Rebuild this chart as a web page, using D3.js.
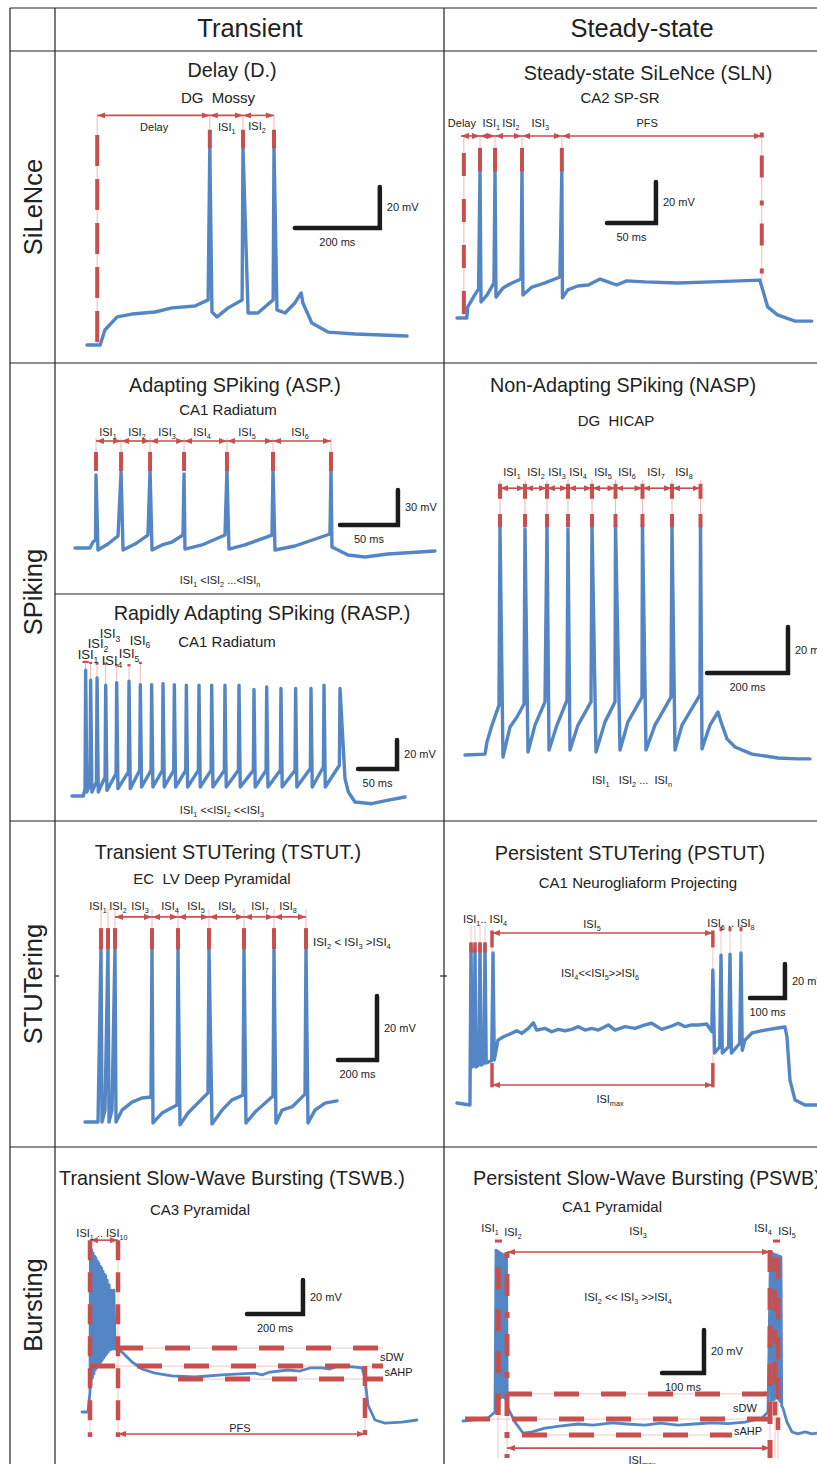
<!DOCTYPE html>
<html>
<head>
<meta charset="utf-8">
<script src="https://cdn.jsdelivr.net/npm/d3@7"></script>
<style>
  html, body { margin: 0; padding: 0; background: #fff; }
  svg { display: block; font-family: "Liberation Sans", Arial, Helvetica, sans-serif; }
</style>
</head>
<body>
<svg id="fig" width="817" height="1464"></svg>
<script>
// Firing-pattern table: 4 families x (transient | steady-state), one sketched trace per cell.
// Traces are stored in ms / mV; every panel has its own scales calibrated on its scale bar.

// ── Table text ──────────────────────────────────────────────────────────────
const COLUMNS = ["Transient", "Steady-state"];
const ROWS    = ["SiLeNce", "SPiking", "STUTering", "Bursting"];

// ── Delay (D.) ──────────────────────────────────────────────────────────────
const DELAY_TRACE = [[0,-70],[31,-70],[42,-62.7],[71,-56.3],[106,-54.9],[160,-53.9],[200,-51.9],[254,-51],
  [285,-48],[289,26.6],[294,-53.9],[306,-56.3],[332,-51.9],[365,-48],[367,26.6],[379,-54.4],[402,-54.4],
  [438,-48],[440,26.1],[447,-52.9],[466,-54.4],[489,-49.5],[504,-44.6],[508,-49.5],[529,-59.3],[567,-63.7],
  [631,-64.6],[753,-65.6]];
const DELAY_SPIKES = [289, 367, 440];
const DELAY_ONSET  = 24;
const DELAY_LABELS = [["Delay", 158, 36.4], ["ISI_{1}", 329, 36.4], ["ISI_{2}", 400, 37]];
const DELAY_BAR    = [489, -12.9, 200, 20];

// ── Steady-state SiLeNce (SLN) ──────────────────────────────────────────────
const SLN_TRACE = [[0,-70],[10,-70],[11,-64.6],[18,-58.8],[22,-55.8],[23.5,2.2],[24.5,-62.2],[30.6,-58.8],
  [37.7,-52.9],[38.8,2.2],[39.8,-59.8],[46.9,-55.4],[56.1,-52.9],[65.3,-51],[66.3,2.2],[67.3,-58.8],[76.5,-54.9],
  [89.8,-52.9],[105,-50],[107,2.2],[107.6,-60.2],[113,-56.3],[123,-54.4],[134,-53.9],[146,-51],[154,-52.4],
  [163,-53.9],[173,-51.9],[192,-52.4],[225,-52.9],[260,-52.4],[309,-51.5],[312,-56.3],[317,-64.6],[327,-68.5],
  [345,-71.5],[362,-71.5]];
const SLN_SPIKES = [23.5, 38.8, 66.3, 107];
const SLN_ONSET  = 7;
const SLN_END    = 311;
const SLN_LABELS = [["Delay", 5, 25], ["ISI_{1}", 35, 25], ["ISI_{2}", 55, 25], ["ISI_{3}", 85, 25], ["PFS", 194, 25]];
const SLN_BAR    = [153, -23.6, 50, 20];

// ── Adapting SPiking (ASP.) ─────────────────────────────────────────────────
const ASP_TRACE = [[0,-70],[12.9,-70],[15.5,-64.9],[17.7,-63.1],[18.1,-7.4],[19.8,-71.7],[28.4,-66.6],[37.1,-59.7],
  [39.7,-4.9],[41.4,-71.7],[51.7,-66.6],[62.9,-58.9],[64.7,-3.2],[66.4,-71.7],[75,-67.4],[83.6,-64.9],[93.1,-58.9],
  [94,-6.6],[94.8,-70.9],[109.5,-67.4],[129.3,-58.9],[131,-3.2],[132.7,-70.9],[146.5,-67.4],[169.8,-58.9],
  [170.7,-3.2],[172.4,-71.7],[189.6,-68.3],[219.8,-58],[220.7,-3.2],[221.5,-69.1],[235.3,-76],[250,-77.7],
  [269.8,-75.1],[310.3,-72.6]];
const ASP_SPIKES = [18.1, 39.7, 64.7, 94, 131, 170.7, 220.7];
const ASP_LABELS = [["ISI_{1}", 28.4, 29.4], ["ISI_{2}", 53.4, 29.4], ["ISI_{3}", 79.3, 29.4],
  ["ISI_{4}", 109.5, 29.4], ["ISI_{5}", 148.3, 29.4], ["ISI_{6}", 194, 29.4]];
const ASP_NOTE   = ["ISI_{1} <ISI_{2} ...<ISI_{n}", 125, -97.4];
const ASP_BAR    = [228.4, -50.3, 50, 30];

// ── Rapidly Adapting SPiking (RASP.) ────────────────────────────────────────
const RASP_START  = [[0,-70],[14.5,-70]];
const RASP_T      = [17.5,23.9,32.1,43.2,57.3,73.1,87.6,102.1,116.7,131.2,146.6,162.8,179.1,196.1,214.1,233.3,
  249.6,267.9,286.7,306.4,323.1,343.6];
const RASP_PEAK   = [16.7,9.8,11.4,6.4,8.2,9.1,6.8,6.8,7.5,6.8,6.4,6.4,6.4,6.4,6.4,3.4,5.2,4.1,4.1,4.1,6.4,4.1];
const RASP_PRE    = [-64.9,-61.5,-60.3,-56.9,-54.6,-53.4,-52.3,-52.3,-52.3,-52.3,-52.3,-52.3,-52.3,-52.3,-52.3,
  -52.3,-52.3,-52.3,-52.3,-51,-50,-48.8];
const RASP_TROUGH = [-67.2,-67.2,-67.2,-66.1,-64.9,-64.9,-63.8,-63.8,-63.8,-63.8,-63.8,-63.8,-63.8,-63.8,-63.8,
  -63.8,-63.8,-63.8,-63.8,-63.8,-63.8,-63.8];
const RASP_END    = [[350,-58],[354.3,-67.2],[362.8,-74.1],[384.2,-75.3],[404,-73],[426.9,-70.7]];
const RASP_TICKS  = [22.5, 21.8, 21.3, 21.3, 20.2, 20.2, 21.8];
const RASP_LABELS = [["ISI_{1}", 20.5, 27.3], ["ISI_{2}", 33.3, 34.9], ["ISI_{3}", 48.7, 41.8],
  ["ISI_{4}", 51.3, 23.8], ["ISI_{5}", 73.1, 28], ["ISI_{6}", 87.2, 37.6]];
const RASP_NOTE   = ["ISI_{1} <<ISI_{2} <<ISI_{3}", 192.3, -79.7];
const RASP_BAR    = [366.7, -51.4, 50, 20];

// ── Non-Adapting SPiking (NASP) ─────────────────────────────────────────────
const NASP_TRACE = [[0,-70],[49.4,-69.6],[54.3,-64.3],[66.7,-57],[83.9,-48.3],[86.4,29.2],[93.8,-70.9],[111.1,-57.8],
  [128.4,-53.5],[145.7,-47.8],[148.1,28.3],[155.5,-68.7],[172.8,-57],[197.5,-46.9],[202.5,30.5],[207.4,-67.8],
  [227.1,-57],[251.8,-46.1],[254.3,28.3],[259.2,-67.8],[279,-57],[311.1,-46.9],[313.6,30.5],[323.4,-68.7],
  [345.7,-55.6],[370.4,-46.9],[371.6,30.1],[382.7,-67.8],[402.4,-55.6],[437,-44.8],[438.2,30.5],[446.9,-67.8],
  [469.1,-57],[508.6,-44.8],[511.1,30.1],[518.5,-67.8],[535.8,-57],[580.2,-43.9],[581.5,30.5],[585.2,-67.4],
  [604.9,-57],[624.7,-51.3],[632.1,-55.6],[646.9,-63],[666.6,-66.5],[708.6,-69.6],[772.8,-71.3],[822.2,-71.7],
  [851.8,-71.7]];
const NASP_SPIKES = [86.4, 148.1, 202.5, 254.3, 313.6, 371.6, 438.2, 511.1, 581.5];
const NASP_LABELS = [["ISI_{1}", 116, 53.1], ["ISI_{2}", 175.3, 53.1], ["ISI_{3}", 227.1, 53.1],
  ["ISI_{4}", 279, 53.1], ["ISI_{5}", 340.7, 53.1], ["ISI_{6}", 400, 53.1], ["ISI_{7}", 471.6, 53.1],
  ["ISI_{8}", 540.7, 53.1]];
const NASP_NOTE   = ["ISI_{1}   ISI_{2} ...  ISI_{n}", 412.3, -80.9];
const NASP_BAR    = [597.5, -34.3, 200, 20];

// ── Transient STUTering (TSTUT.) ────────────────────────────────────────────
const TSTUT_TRACE = [[0,-70],[66.7,-70],[82,-15.3],[87.2,-70],[102.6,-66.3],[117.9,-15],[123.1,-70],[138.5,-66.3],
  [153.8,-15.3],[159,-70],[189.7,-66.3],[241,-63.8],[292.3,-62.5],[338.4,-62.2],[343.6,-15.6],[348.7,-70.3],
  [394.9,-67.2],[471.8,-64.7],[476.9,-15.6],[487.2,-70.9],[528.2,-67.2],[630.7,-60.9],[635.9,-15.6],[651.3,-70.6],
  [702.6,-66.3],[753.8,-63.1],[810.2,-61.6],[815.4,-15.6],[825.6,-70.3],[871.8,-66.9],[964.1,-61.9],[969.2,-16.3],
  [979.4,-70.3],[1010.2,-66.3],[1061.5,-65.3],[1128.2,-61.3],[1133.3,-15.6],[1143.5,-70.3],[1179.4,-66.3],
  [1230.7,-64.1],[1292.3,-63.4]];
const TSTUT_SPIKES = [82, 117.9, 153.8, 343.6, 476.9, 635.9, 815.4, 969.2, 1133.3];
const TSTUT_LABELS = [["ISI_{1}", 66.7, -2.5], ["ISI_{2}", 169.2, -2.5], ["ISI_{3}", 282, -2.5],
  ["ISI_{4}", 435.9, -2.5], ["ISI_{5}", 569.2, -2.5], ["ISI_{6}", 728.2, -2.5], ["ISI_{7}", 897.4, -2.5],
  ["ISI_{8}", 1041, -2.5]];
const TSTUT_NOTE   = ["ISI_{2} < ISI_{3} >ISI_{4}", 1169, -13.75];
const TSTUT_BAR    = [1297.4, -50.6, 200, 20];

// ── Persistent STUTering (PSTUT) ────────────────────────────────────────────
const PSTUT_TRACE = [[0,-70],[37,-71.2],[40,22.9],[43,-48.8],[48.5,-48],[51.4,21.1],[54.5,-48.8],[62.5,-47.5],
  [65.7,23.5],[69,-47.7],[77,-46.5],[80,23.5],[83.5,-46.5],[99,-45],[102.9,18.2],[106.5,-44.7],[117.1,-33],
  [131.4,-31.2],[156.2,-29],[170.5,-27.5],[184.8,-29],[203.8,-26.1],[218.1,-22.8],[227.6,-27.1],[251.4,-26.1],
  [270.5,-28.1],[289.5,-26.7],[308.6,-27.5],[327.6,-26.7],[346.7,-25.1],[365.7,-27.1],[384.8,-26.1],[403.8,-27.1],
  [432.4,-24.1],[451.4,-27.1],[480,-25.1],[508.6,-26.1],[537.1,-24.1],[556.2,-23.1],[584.8,-26.7],[613.4,-24.7],
  [632.4,-23.1],[651.4,-25.1],[670.5,-24.1],[689.5,-24.1],[713.3,-23.5],[728,-28],[731,8.2],[736,-40.6],
  [750.5,-37],[754.3,17],[758,-40.6],[776,-37],[780,17.6],[784,-40.6],[807.5,-35],[811.4,18.2],[815,-39],
  [822.8,-33],[842.8,-28.8],[880,-27.1],[917.1,-25.9],[937.1,-25.3],[942.8,-31.2],[951.4,-56.5],[965.7,-68.2],
  [994.3,-71.2],[1028.5,-71.2]];
const PSTUT_FIRST  = [40, 51.4, 65.7, 80];
const PSTUT_SECOND = [754.3, 780, 811.4];
const PSTUT_ISI5   = [100, 731];
const PSTUT_LABELS = [["ISI_{1}.. ISI_{4}", 80, 38.2], ["ISI_{5}", 385.7, 35.3], ["ISI_{6} .. ISI_{8}", 782.8, 35.8],
  ["ISI_{4}<<ISI_{5}>>ISI_{6}", 408.6, 6.4], ["ISI_{max}", 437.1, -67.6]];
const PSTUT_BAR    = [837, -8.3, 100, 20];

// ── Transient Slow-Wave Bursting (TSWB.) ────────────────────────────────────
const TSWB_START  = [[0,-70],[21.4,-70],[28.6,-58.2]];
const TSWB_T      = [30,35,40,45,50,55,60,65,70,75,80,85,90,97,105,114];
const TSWB_PEAK   = [26.4,25.3,23.5,21.7,20.6,18.8,17.6,15.8,14.7,12.9,11.1,10,7.6,4.7,1.7,1.7];
const TSWB_TROUGH = [-54.1,-50,-47.7,-45.3,-44.1,-43,-41.8,-40.6,-39.4,-38.2,-37.1,-35.9,-34.7,-33.5,-33,-33];
const TSWB_END    = [[128.6,-33],[146.4,-35.3],[178.6,-40.6],[214.3,-44.7],[260.7,-47.1],[321.4,-48.8],
  [403.5,-49.4],[500,-48.2],[564.3,-47.6],[617.8,-47.1],[642.8,-48.2],[671.4,-46.5],[735.6,-45.3],[778.5,-45.9],
  [814.2,-44.1],[857.1,-44.1],[885.6,-44.7],[921.3,-42.4],[939.2,-43],[1000,-44.1],[1010.6,-50],[1021.3,-65.9],
  [1046.3,-74.7],[1082,-76.5],[1142.7,-75.9],[1196.3,-74.7]];
const TSWB_BOUNDS = [28.6, 128.6, 1010.6];
const TSWB_LEVELS = [-32.4, -43, -50.6];
const TSWB_LABELS = [["ISI_{1} .. ISI_{10}", 71.4, 35.3], ["PFS", 564, -79.4]];
const TSWB_BAR    = [589.2, -12.4, 200, 20];

// ── Persistent Slow-Wave Bursting (PSWB) ────────────────────────────────────
const PSWB_START   = [[0,-70],[59.5,-68.6],[76.2,-65.8]];
const PSWB_T1      = [78.6,82.1,85.7,89.3,92.9,96.4,100,103.6];
const PSWB_PEAK1   = [9.5,9,8.6,8.1,7.7,7.2,7.2,6.7];
const PSWB_TROUGH1 = [-61,-60,-60,-59,-59,-59,-60,-62];
const PSWB_MID     = [[107.1,-64],[123.8,-70.5],[142.9,-75.6],[164.3,-75.1],[195.2,-73.3],[230,-72.4],[273.8,-71.4],
  [310,-71.9],[354.8,-70.9],[390,-71.4],[433.3,-71.9],[470,-71],[511.9,-71.9],[550,-71.4],[592.9,-70.9],[630,-71.2],
  [671.4,-70.5],[711.9,-68.6],[726.2,-65.8]];
const PSWB_T2      = [732.1,735.7,739.3,742.9,746.4,750,753.6,757.1];
const PSWB_PEAK2   = [8.6,8.1,7.7,7.2,7.2,6.7,6.7,6.3];
const PSWB_TROUGH2 = [-61,-60,-60,-59,-59,-60,-61,-63];
const PSWB_END     = [[761.9,-64],[771.4,-70.5],[783.3,-75.1],[797.6,-76],[814.3,-75.1],[831,-76],[842.9,-75.6]];
const PSWB_LABELS  = [["ISI_{1}", 64.3, 19.7], ["ISI_{2}", 119, 17.9], ["ISI_{3}", 416.7, 18.4], ["ISI_{4}", 714.3, 19.7],
  ["ISI_{5}", 771.4, 18.4], ["ISI_{2} << ISI_{3} >>ISI_{4}", 392.9, -12.3], ["ISI_{max}", 426.2, -88.1]];
const PSWB_BAR     = [473.8, -47.7, 100, 20];

// ── Layout ──────────────────────────────────────────────────────────────────
const BLUE = "#5486c6", RED = "#c7504f", PINK = "#efb9b6", INK = "#222";

// origin (t=0, V=-70 mV) in page px, px per ms, px per mV
const LAYOUT = {
  delay: { x0: 87,  kx: 0.425, y0: 345,  ky: 2.05  },
  sln:   { x0: 457, kx: 0.98,  y0: 318,  ky: 2.05  },
  asp:   { x0: 75,  kx: 1.16,  y0: 548,  ky: 1.167 },
  rasp:  { x0: 72,  kx: 0.78,  y0: 796,  ky: 1.45  },
  nasp:  { x0: 465, kx: 0.405, y0: 755,  ky: 2.3   },
  tstut: { x0: 85,  kx: 0.195, y0: 1122, ky: 3.2   },
  pstut: { x0: 457, kx: 0.35,  y0: 1103, ky: 1.7   },
  tswb:  { x0: 82,  kx: 0.28,  y0: 1412, ky: 1.7   },
  pswb:  { x0: 463, kx: 0.42,  y0: 1421, ky: 2.15  },
};

const svg = d3.select("#fig");

svg.append("defs").append("marker")
  .attr("id", "ah").attr("viewBox", "0 0 10 10").attr("refX", 10).attr("refY", 5)
  .attr("markerWidth", 8).attr("markerHeight", 6).attr("markerUnits", "userSpaceOnUse")
  .attr("preserveAspectRatio", "none").attr("orient", "auto-start-reverse")
  .append("path").attr("d", "M0,0L10,5L0,10Z").attr("fill", RED);

// text with "_{..}" subscripts
function txt(g, cx, cy, str, size, anchor = "middle") {
  const el = g.append("text")
    .attr("x", cx).attr("y", cy + size * 0.35)
    .attr("font-size", size).attr("text-anchor", anchor)
    .attr("fill", INK).style("white-space", "pre");
  let shifted = false;
  str.split(/(_\{[^}]*\})/).filter(s => s).forEach(s => {
    const m = s.match(/^_\{(.*)\}$/);
    if (m) {
      el.append("tspan").attr("font-size", size * 0.66).attr("dy", size * 0.3).text(m[1]);
      shifted = true;
    } else {
      el.append("tspan").attr("dy", shifted ? -size * 0.3 : 0).text(s);
      shifted = false;
    }
  });
  return el;
}

function panel(L) {
  return {
    g: svg.append("g"),
    x: d3.scaleLinear().domain([0, 1000]).range([L.x0, L.x0 + 1000 * L.kx]),
    y: d3.scaleLinear().domain([-70, 30]).range([L.y0, L.y0 - 100 * L.ky]),
  };
}

function trace(P, pts, w = 3.4) {
  P.g.append("path").datum(pts)
    .attr("d", d3.line().x(d => P.x(d[0])).y(d => P.y(d[1])))
    .attr("fill", "none").attr("stroke", BLUE).attr("stroke-width", w)
    .attr("stroke-linejoin", "round").attr("stroke-linecap", "round");
}

function vline(P, t, v0, v1, color, w, dash) {
  P.g.append("line")
    .attr("x1", P.x(t)).attr("x2", P.x(t)).attr("y1", P.y(v0)).attr("y2", P.y(v1))
    .attr("stroke", color).attr("stroke-width", w).attr("stroke-dasharray", dash || null);
}

function hline(P, v, t0, t1, color, w, dash) {
  P.g.append("line")
    .attr("x1", P.x(t0)).attr("x2", P.x(t1)).attr("y1", P.y(v)).attr("y2", P.y(v))
    .attr("stroke", color).attr("stroke-width", w).attr("stroke-dasharray", dash || null);
}

function arrow(P, t0, t1, v) {
  P.g.append("line")
    .attr("x1", P.x(t0)).attr("x2", P.x(t1)).attr("y1", P.y(v)).attr("y2", P.y(v))
    .attr("stroke", RED).attr("stroke-width", 1.6)
    .attr("marker-start", "url(#ah)").attr("marker-end", "url(#ah)");
}

function chainArrows(P, bounds, v) {
  for (let i = 0; i < bounds.length - 1; i++) arrow(P, bounds[i], bounds[i + 1], v);
}

function labels(P, list, size = 11, anchor = "middle") {
  list.forEach(([s, t, v]) => txt(P.g, P.x(t), P.y(v), s, size, anchor));
}

function scaleBar(P, [t, v, ms, mv]) {
  const x0 = P.x(t), x1 = P.x(t + ms), y0 = P.y(v), y1 = P.y(v + mv);
  P.g.append("path").attr("d", `M${x0},${y0}H${x1}V${y1}`)
    .attr("fill", "none").attr("stroke", "#1b1b1b").attr("stroke-width", 4.5)
    .attr("stroke-linecap", "round").attr("stroke-linejoin", "miter");
  txt(P.g, x1 + 7, (y0 + y1) / 2, `${mv} mV`, 11, "start");
  txt(P.g, (x0 + x1) / 2, y0 + 14, `${ms} ms`, 11);
}

function burst(times, peaks, troughs) {
  const pts = [];
  times.forEach((t, i) => {
    const next = i < times.length - 1 ? times[i + 1] : t + (t - times[i - 1]);
    pts.push([t, peaks[i]], [(t + next) / 2, troughs[i]]);
  });
  return pts;
}

// ── Table grid ──────────────────────────────────────────────────────────────
const grid = svg.append("g").attr("stroke", "#222").attr("stroke-width", 1.2);
[10, 55, 444].forEach(x => grid.append("line").attr("x1", x).attr("x2", x).attr("y1", 8).attr("y2", 1464));
[8, 51, 363, 821, 1147].forEach(y => grid.append("line").attr("x1", 10).attr("x2", 817).attr("y1", y).attr("y2", y));
grid.append("line").attr("x1", 55).attr("x2", 444).attr("y1", 594).attr("y2", 594);
grid.append("line").attr("x1", 55).attr("x2", 59).attr("y1", 976).attr("y2", 976);
grid.append("line").attr("x1", 440).attr("x2", 447).attr("y1", 976).attr("y2", 976);

txt(svg, 250, 28, COLUMNS[0], 25.5);
txt(svg, 642, 28, COLUMNS[1], 25.5);
[[207, ROWS[0]], [592, ROWS[1]], [984, ROWS[2]], [1305, ROWS[3]]].forEach(([cy, s]) => {
  txt(svg, 0, 0, s, 25.5).attr("transform", `translate(33,${cy}) rotate(-90)`);
});

// ── Titles ──────────────────────────────────────────────────────────────────
const TITLE = 19.8, SUB = 15;
txt(svg, 232, 70,  "Delay (D.)", TITLE);                         txt(svg, 218, 98,  "DG  Mossy", SUB);
txt(svg, 648, 73,  "Steady-state SiLeNce (SLN)", TITLE);         txt(svg, 620, 98,  "CA2 SP-SR", SUB);
txt(svg, 235, 385, "Adapting SPiking (ASP.)", TITLE);            txt(svg, 228, 410, "CA1 Radiatum", SUB);
txt(svg, 262, 613, "Rapidly Adapting SPiking (RASP.)", TITLE);   txt(svg, 227, 642, "CA1 Radiatum", SUB);
txt(svg, 623, 385, "Non-Adapting SPiking (NASP)", TITLE);        txt(svg, 616, 421, "DG  HICAP", SUB);
txt(svg, 228, 852, "Transient STUTering (TSTUT.)", TITLE);       txt(svg, 212, 879, "EC  LV Deep Pyramidal", SUB);
txt(svg, 630, 853, "Persistent STUTering (PSTUT)", TITLE);       txt(svg, 638, 883, "CA1 Neurogliaform Projecting", SUB);
txt(svg, 232, 1178, "Transient Slow-Wave Bursting (TSWB.)", TITLE); txt(svg, 200, 1210, "CA3 Pyramidal", SUB);
txt(svg, 473, 1178, "Persistent Slow-Wave Bursting (PSWB)", TITLE, "start"); txt(svg, 612, 1207, "CA1 Pyramidal", SUB);

// ── Delay ───────────────────────────────────────────────────────────────────
{
  const P = panel(LAYOUT.delay);
  vline(P, DELAY_ONSET, 42, -70, PINK, 1);
  vline(P, DELAY_ONSET, 32.5, -70, RED, 4, "31,13");
  DELAY_SPIKES.forEach(t => vline(P, t, 42, 35, PINK, 1));
  chainArrows(P, [DELAY_ONSET, ...DELAY_SPIKES], 42);
  trace(P, DELAY_TRACE);
  DELAY_SPIKES.forEach(t => vline(P, t, 26, 35, RED, 4));
  labels(P, DELAY_LABELS);
  scaleBar(P, DELAY_BAR);
}

// ── SLN ─────────────────────────────────────────────────────────────────────
{
  const P = panel(LAYOUT.sln);
  vline(P, SLN_ONSET, 18.8, -69.5, PINK, 1);
  vline(P, SLN_END, 18.8, -51.5, PINK, 1);
  SLN_SPIKES.forEach(t => vline(P, t, 18.8, 13, PINK, 1));
  chainArrows(P, [4, ...SLN_SPIKES, SLN_END], 18.8);
  trace(P, SLN_TRACE);
  vline(P, SLN_ONSET, 10.5, -69.5, RED, 4, "23,23");
  vline(P, SLN_END, 20.5, -51.5, RED, 4, "5,18,22,23");
  SLN_SPIKES.forEach(t => vline(P, t, 1.5, 13, RED, 4));
  labels(P, SLN_LABELS);
  scaleBar(P, SLN_BAR);
}

// ── ASP ─────────────────────────────────────────────────────────────────────
{
  const P = panel(LAYOUT.asp);
  ASP_SPIKES.forEach(t => vline(P, t, 24.3, 12.3, PINK, 1));
  chainArrows(P, ASP_SPIKES, 21.7);
  trace(P, ASP_TRACE);
  ASP_SPIKES.forEach(t => vline(P, t, -4, 12.3, RED, 4));
  labels(P, ASP_LABELS);
  labels(P, [ASP_NOTE]);
  scaleBar(P, ASP_BAR);
}

// ── RASP ────────────────────────────────────────────────────────────────────
{
  const P = panel(LAYOUT.rasp);
  const pts = [...RASP_START];
  RASP_T.forEach((t, i) => {
    pts.push([t - 0.8, RASP_PRE[i]], [t, RASP_PEAK[i]]);
    if (i < RASP_T.length - 1) pts.push([t + 1.6, RASP_TROUGH[i]]);
  });
  pts.push(...RASP_END);
  RASP_TICKS.forEach((v, i) => vline(P, RASP_T[i], v, RASP_PEAK[i], PINK, 1));
  trace(P, pts);
  RASP_TICKS.forEach((v, i) => hline(P, v, RASP_T[i] - (i === 0 ? 4 : 2), RASP_T[i] + (i === 0 ? 4 : 2), RED, 2.2));
  labels(P, RASP_LABELS, 13);
  labels(P, [RASP_NOTE]);
  scaleBar(P, RASP_BAR);
}

// ── NASP ────────────────────────────────────────────────────────────────────
{
  const P = panel(LAYOUT.nasp);
  NASP_SPIKES.forEach(t => vline(P, t, 49.6, 34.8, PINK, 1));
  chainArrows(P, NASP_SPIKES, 46);
  trace(P, NASP_TRACE);
  NASP_SPIKES.forEach(t => { vline(P, t, 41.4, 47.9, RED, 4); vline(P, t, 29, 34.8, RED, 4); });
  labels(P, NASP_LABELS);
  labels(P, [NASP_NOTE]);
  scaleBar(P, NASP_BAR);
}

// ── TSTUT ───────────────────────────────────────────────────────────────────
{
  const P = panel(LAYOUT.tstut);
  TSTUT_SPIKES.forEach(t => vline(P, t, -3.5, -9.4, PINK, 1));
  chainArrows(P, TSTUT_SPIKES.slice(2), -5.9);
  trace(P, TSTUT_TRACE);
  TSTUT_SPIKES.forEach(t => vline(P, t, -16, -9.4, RED, 4));
  labels(P, TSTUT_LABELS);
  labels(P, [TSTUT_NOTE], 11.5, "start");
  scaleBar(P, TSTUT_BAR);
}

// ── PSTUT ───────────────────────────────────────────────────────────────────
{
  const P = panel(LAYOUT.pstut);
  PSTUT_ISI5.forEach(t => vline(P, t, 22.9, -46.5, PINK, 0.8));
  PSTUT_FIRST.forEach(t => vline(P, t, 34.7, 24, PINK, 0.8));
  PSTUT_SECOND.forEach(t => vline(P, t, 31, 17, PINK, 0.8));
  arrow(P, PSTUT_ISI5[0], PSTUT_ISI5[1], 30);
  arrow(P, PSTUT_ISI5[0], PSTUT_ISI5[1], -59.4);
  trace(P, PSTUT_TRACE);
  PSTUT_ISI5.forEach(t => { vline(P, t, 31.5, 21.5, RED, 3.5); vline(P, t, -46.5, -60.8, RED, 3.5); });
  PSTUT_FIRST.forEach(t => vline(P, t, 18.5, 24.5, RED, 3.5));
  PSTUT_SECOND.forEach(t => vline(P, t, 31, 33.6, RED, 3));
  labels(P, PSTUT_LABELS);
  scaleBar(P, PSTUT_BAR);
}

// ── TSWB ────────────────────────────────────────────────────────────────────
{
  const P = panel(LAYOUT.tswb);
  const [b0, b1, b2] = TSWB_BOUNDS;
  const [sDW, mid, sAHP] = TSWB_LEVELS;
  vline(P, b0, 31.1, -84.7, PINK, 0.8);
  vline(P, b1, 31.1, -84.7, PINK, 0.8);
  vline(P, b2, mid, -83.5, PINK, 0.8);
  hline(P, sDW, b1, 1075, PINK, 0.8);
  hline(P, mid, b0, 1075, PINK, 0.8);
  hline(P, sAHP, 342.8, 1075, PINK, 0.8);
  trace(P, [...TSWB_START, ...burst(TSWB_T, TSWB_PEAK, TSWB_TROUGH), ...TSWB_END], 2.8);
  vline(P, b0, 31.1, -84.7, RED, 4.5, "20,12");
  vline(P, b1, 31.1, -84.7, RED, 4.5, "20,12");
  vline(P, b2, mid, -83.5, RED, 4.5, "20,12");
  hline(P, sDW, b1, 1075, RED, 5, "25,22");
  hline(P, mid, b0, 1075, RED, 5, "25,22");
  hline(P, sAHP, 342.8, 1075, RED, 5, "25,22");
  arrow(P, b0, b1, 31.1);
  arrow(P, b1, b2, -82.9);
  labels(P, TSWB_LABELS);
  txt(P.g, P.x(1064), P.y(-37.7), "sDW", 11, "start");
  txt(P.g, P.x(1080), P.y(-46.5), "sAHP", 11, "start");
  scaleBar(P, TSWB_BAR);
}

// ── PSWB ────────────────────────────────────────────────────────────────────
{
  const P = panel(LAYOUT.pswb);
  const bounds = [104.8, 731];
  [83.3, 104.8, 731, 742.9, 750].forEach(t => vline(P, t, 8.6, -87.2, PINK, 0.8));
  hline(P, -57.4, 104.8, 723.8, PINK, 0.8);
  hline(P, -69.1, 4.8, 742.9, PINK, 0.8);
  hline(P, -76.5, 140.5, 640.5, PINK, 0.8);
  trace(P, [...PSWB_START, ...burst(PSWB_T1, PSWB_PEAK1, PSWB_TROUGH1), ...PSWB_MID,
            ...burst(PSWB_T2, PSWB_PEAK2, PSWB_TROUGH2), ...PSWB_END], 2.8);
  vline(P, 83.3, 1.6, -74.2, RED, 5.5, "22,20");
  vline(P, 104.8, 8.6, -87.2, RED, 5, "6,16,22,16");
  vline(P, 731, 9.5, -87.2, RED, 5, "22,16");
  vline(P, 742.9, 6, -74.2, RED, 4.5, "14,18,22,18");
  vline(P, 750, 6, -74.2, RED, 4.5, "22,18");
  hline(P, -57.4, 104.8, 723.8, RED, 5, "25,22");
  hline(P, -69.1, 4.8, 742.9, RED, 5, "25,22");
  hline(P, -76.5, 140.5, 640.5, RED, 5, "25,22");
  hline(P, 13.7, 76, 93, RED, 3);
  hline(P, 13.7, 738, 755, RED, 3);
  arrow(P, bounds[0], bounds[1], 8.6);
  arrow(P, bounds[0], bounds[1], -82.6);
  labels(P, PSWB_LABELS);
  txt(P.g, P.x(671.4), P.y(-64), "sDW", 11);
  txt(P.g, P.x(678.6), P.y(-74.7), "sAHP", 11);
  scaleBar(P, PSWB_BAR);
}
</script>
</body>
</html>
